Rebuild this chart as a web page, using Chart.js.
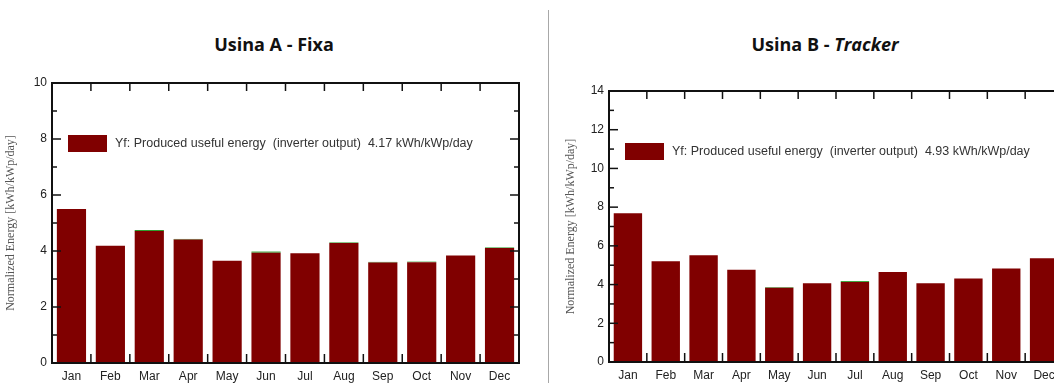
<!DOCTYPE html>
<html>
<head>
<meta charset="utf-8">
<script src="https://cdn.jsdelivr.net/npm/chart.js@4"></script>
<style>
  body { margin: 0; width: 1054px; height: 383px; overflow: hidden; background: #fff; position: relative; }
  .titulo { position: absolute; top: 32px; font-family: "Open Sans", "Noto Sans", sans-serif; font-weight: bold; font-size: 18px; color: #111; transform: translateX(-50%); white-space: nowrap; }
  .divisor { position: absolute; left: 548px; top: 10px; width: 1px; height: 373px; background: #a8a8a8; }
  #boxA { position: absolute; left: 0; top: 0; width: 548px; height: 383px; }
  #boxB { position: absolute; left: 560px; top: 0; width: 520px; height: 383px; }
</style>
</head>
<body>
<div class="titulo" style="left:274px">Usina A - Fixa</div>
<div class="titulo" style="left:825px">Usina B - <i>Tracker</i></div>
<div class="divisor"></div>
<div id="boxA"><canvas id="graficoA"></canvas></div>
<div id="boxB"><canvas id="graficoB"></canvas></div>
<script>
  const meses = ["Jan", "Feb", "Mar", "Apr", "May", "Jun", "Jul", "Aug", "Sep", "Oct", "Nov", "Dec"];

  // Usina A - Fixa
  const yfFixa = [5.50, 4.19, 4.71, 4.41, 3.65, 3.94, 3.92, 4.29, 3.59, 3.60, 3.84, 4.11];
  const perdaFixa = [0, 0, 0.04, 0.02, 0, 0.04, 0, 0.02, 0.02, 0.02, 0, 0.02];
  const mediaFixa = "4.17";

  // Usina B - Tracker
  const yfTracker = [7.68, 5.20, 5.52, 4.76, 3.84, 4.07, 4.13, 4.65, 4.07, 4.31, 4.83, 5.36];
  const perdaTracker = [0, 0, 0, 0, 0.03, 0, 0.05, 0, 0, 0, 0, 0];
  const mediaTracker = "4.93";

  const fonteEixo = { family: "'Liberation Sans', Arial, sans-serif", size: 12 };

  // moldura com ticks para dentro + legenda dentro do grafico
  const quadroPlugin = {
    id: "quadro",
    afterDraw(chart, args, opts) {
      const { ctx, chartArea: a, scales: { x, y } } = chart;
      ctx.save();
      ctx.strokeStyle = "#111";
      ctx.lineWidth = 1.5;
      const linha = (x1, y1, x2, y2) => {
        ctx.beginPath(); ctx.moveTo(x1, y1); ctx.lineTo(x2, y2); ctx.stroke();
      };
      for (let v = y.min; v <= y.max; v++) {
        const py = y.getPixelForValue(v);
        const len = v % 2 === 0 ? 9 : 5;
        linha(a.left, py, a.left + len, py);
        linha(a.right - len, py, a.right, py);
      }
      const n = chart.data.labels.length;
      for (let i = 1; i < n; i++) {
        const px = (x.getPixelForValue(i - 1) + x.getPixelForValue(i)) / 2;
        linha(px, a.top, px, a.top + 8);
        linha(px, a.bottom - 9, px, a.bottom);
      }
      ctx.lineWidth = 2;
      ctx.strokeRect(a.left, a.top, a.right - a.left, a.bottom - a.top);

      // legenda
      const ds = chart.data.datasets[0];
      const bx = a.left + 16, by = a.top + 52;
      ctx.fillStyle = ds.backgroundColor;
      ctx.fillRect(bx, by, 39, 17);
      ctx.fillStyle = "#333";
      ctx.font = "12.5px 'Liberation Sans', Arial, sans-serif";
      ctx.textBaseline = "middle";
      ctx.fillText(opts.texto, bx + 47, by + 9);
      ctx.restore();
    }
  };

  function criarGrafico(id, yf, perda, maxY, media, cfg) {
    const ctx = document.getElementById(id).getContext("2d");
    return new Chart(ctx, {
      type: "bar",
      data: {
        labels: meses,
        datasets: [
          { label: "Yf: Produced useful energy", data: yf, backgroundColor: "#800000", borderWidth: 0 },
          { label: "Perdas", data: perda, backgroundColor: "#2f9e2f", borderWidth: 0 }
        ]
      },
      options: {
        responsive: true,
        maintainAspectRatio: false,
        animation: false,
        layout: { padding: { top: cfg.topo, right: cfg.direita, left: 0, bottom: 0 } },
        datasets: { bar: { barPercentage: 0.75, categoryPercentage: 1 } },
        plugins: {
          legend: { display: false },
          tooltip: { enabled: false },
          quadro: { texto: "Yf: Produced useful energy  (inverter output)  " + media + " kWh/kWp/day" }
        },
        scales: {
          x: {
            stacked: true,
            grid: { display: false, drawTicks: false },
            border: { display: false },
            ticks: { font: fonteEixo, color: "#222", padding: 6 },
            afterFit: s => { s.height = cfg.baixo; }
          },
          y: {
            stacked: true,
            min: 0,
            max: maxY,
            grid: { display: false, drawTicks: false },
            border: { display: false },
            ticks: { stepSize: 2, font: fonteEixo, color: "#222", padding: 5 },
            title: {
              display: true,
              text: "Normalized Energy [kWh/kWp/day]",
              font: { family: "'Liberation Serif', 'Times New Roman', serif", size: 12 },
              color: "#555"
            },
            afterFit: s => { s.width = cfg.eixoY; }
          }
        }
      },
      plugins: [quadroPlugin]
    });
  }

  document.addEventListener("DOMContentLoaded", () => {
    criarGrafico("graficoA", yfFixa, perdaFixa, 10, mediaFixa, { topo: 83, direita: 29, baixo: 20, eixoY: 52 });
    criarGrafico("graficoB", yfTracker, perdaTracker, 14, mediaTracker, { topo: 91, direita: 17, baixo: 21, eixoY: 49 });
  });
</script>
</body>
</html>
